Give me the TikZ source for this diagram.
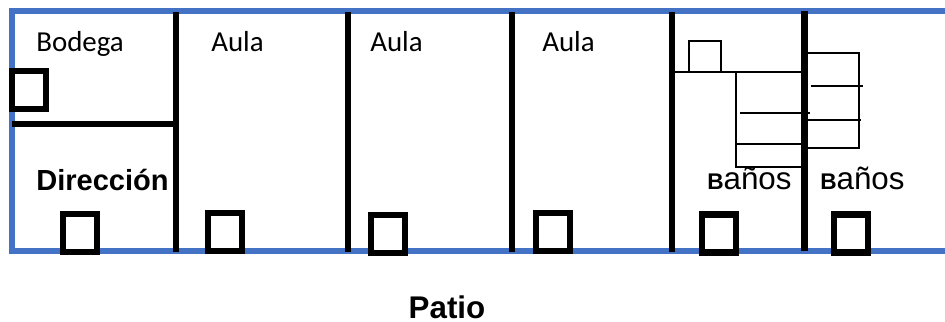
\documentclass[tikz,border=0pt]{standalone}
\usepackage{fontspec}
\setmainfont{Carlito}
\newfontfamily\arialfont{Liberation Sans}
\usetikzlibrary{positioning}

\definecolor{wallblue}{RGB}{68,114,196}
\tikzset{
    outer/.style={draw=wallblue, line width=4.9pt},
    wall/.style={draw=black, line width=4.9pt},
    door/.style={draw=black, fill=white, line width=5pt, inner sep=0pt, minimum width=25.5pt, minimum height=28.5pt},
    stall/.style={draw=black, line width=1.4pt},
    room/.style={anchor=base west, inner sep=0pt, font=\fontsize{21.7}{24}\selectfont},
    boldroom/.style={anchor=base west, inner sep=0pt, font=\arialfont\bfseries\fontsize{21.8}{24}\selectfont},
    bath/.style={anchor=base west, inner sep=0pt, font=\arialfont\fontsize{23.5}{26}\selectfont}
}

\begin{document}
\begin{tikzpicture}[x=0.75pt, y=-0.75pt]
            \useasboundingbox (0,0) rectangle (945,321);

            % building outline
            \draw[outer] (945,11) -- (12,11) -- (12,251) -- (945,251);

            % walls
            \draw[wall] (176,12) -- (176,252);
            \draw[wall] (348,12) -- (348,252);
            \draw[wall] (512,12) -- (512,252);
            \draw[wall] (672,12) -- (672,252);
            \draw[wall] (804.5,11) -- (804.5,251);
            \draw[wall] (12,124) -- (176,124);

            % stalls
            \node[stall, inner sep=0pt, minimum width=24pt, minimum height=23pt] (vent) at (705,56.5) {};
            \draw[stall] (675,72) -- (801,72);
            \draw[stall] (736,72) -- (736,167) -- (802,167);
            \draw[stall] (740,113) -- (810,113);
            \draw[stall] (736,144) -- (802,144);
            \draw[stall] (807,53) -- (859,53) -- (859,148) -- (807,148);
            \draw[stall] (811,86) -- (863,86);
            \draw[stall] (808,120) -- (861,120);

            % doors
            \node[door] (d1) at (29,90) {};
            \node[door] (d2) at (80,233) {};
            \node[door] (d3) at (225,232) {};
            \node[door] (d4) at (388,234) {};
            \node[door] (d5) at (553,232) {};
            \node[door] (d6) at (719,233.5) {};
            \node[door] (d7) at (851,233.5) {};

            % labels
            \node[room] (bodega) at (36,52) {Bodega};
            \node[room] (aula1) at (211,52) {Aula};
            \node[room] (aula2) at (370,52) {Aula};
            \node[room] (aula3) at (542,52) {Aula};
            \node[boldroom] (direccion) at (36,190) {Dirección};
            \node[bath] (banos1) at (707,189) {{\bfseries\fontsize{17}{20}\selectfont B}años};
            \node[bath] (banos2) at (820,189) {{\bfseries\fontsize{17}{20}\selectfont B}años};
            \node[boldroom, anchor=base, font=\arialfont\bfseries\fontsize{23.5}{26}\selectfont] (patio) at (447,318) {Patio};
        \end{tikzpicture}
\end{document}
